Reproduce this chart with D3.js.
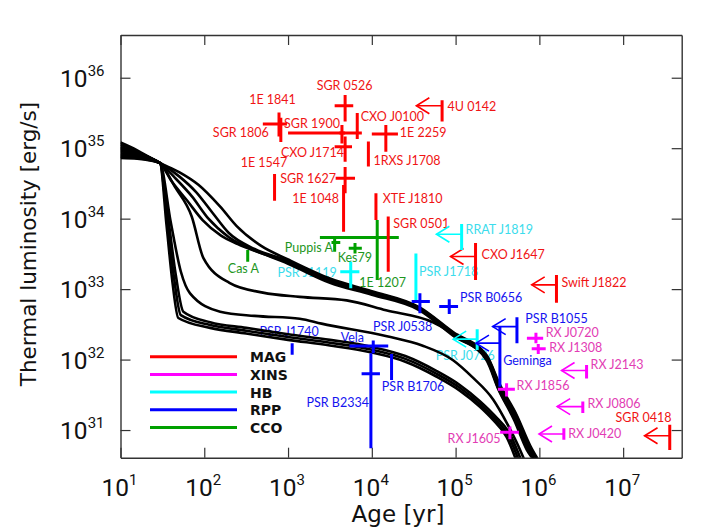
<!DOCTYPE html>
<html>
<head>
<meta charset="utf-8">
<script src="https://cdn.jsdelivr.net/npm/d3@7"></script>
<style>
  body { margin: 0; background: #fff; }
  svg text { font-family: Lato, "Open Sans", sans-serif; }
</style>
</head>
<body>
<div id="chart"></div>
<script>
// cooling curves: [log10 age (yr), log10 L (erg/s)]
const curveU1 = [[1,35.08],[1.2,34.97],[1.47,34.79],[1.7,34.66],[1.93,34.48],[2.19,34.17],[2.39,33.89],[2.67,33.62],[3.0,33.42],[3.5,33.15],[4.0,32.97],[4.57,32.74],[4.97,32.39],[5.37,32.06],[5.53,31.64],[5.73,31.21],[5.89,30.78],[6.0,30.55]];
const curveU2 = [[1,35.05],[1.2,34.95],[1.47,34.79],[1.7,34.6],[1.9,34.38],[2.1,34.08],[2.29,33.8],[2.6,33.57],[3.0,33.4],[3.5,33.13],[4.0,32.96],[4.57,32.73],[4.97,32.38],[5.37,32.05],[5.53,31.62],[5.73,31.19],[5.88,30.77],[5.99,30.55]];
const curveU3 = [[1,35.02],[1.2,34.93],[1.47,34.79],[1.65,34.58],[1.85,34.32],[2.05,34.0],[2.29,33.74],[2.6,33.55],[3.0,33.38],[3.5,33.11],[4.0,32.94],[4.57,32.72],[4.97,32.36],[5.37,32.03],[5.52,31.61],[5.72,31.17],[5.87,30.75],[5.97,30.55]];
const curveU4 = [[1,34.99],[1.2,34.91],[1.47,34.79],[1.6,34.55],[1.8,34.25],[1.98,33.98],[2.2,33.76],[2.4,33.64],[2.7,33.5],[3.0,33.36],[3.5,33.09],[4.0,32.92],[4.57,32.7],[4.97,32.34],[5.37,32.01],[5.51,31.59],[5.71,31.15],[5.86,30.73],[5.96,30.55]];
const curveM0 = [[1,34.96],[1.2,34.9],[1.47,34.79],[1.65,34.45],[1.85,34.03],[1.99,33.44],[2.3,33.09],[2.7,32.95],[3.14,32.89],[3.7,32.84],[4.17,32.7],[4.73,32.53],[5.05,32.3],[5.37,31.99],[5.51,31.58],[5.7,31.14],[5.85,30.72],[5.95,30.55]];
const curveM1 = [[1,34.93],[1.2,34.88],[1.47,34.79],[1.6,33.95],[1.72,33.25],[1.83,32.94],[2.19,32.68],[2.6,32.62],[3.14,32.58],[3.4,32.51],[4.18,32.33],[4.6,32.2],[4.97,31.99],[5.2,31.75],[5.45,31.43],[5.62,31.08],[5.75,30.77],[5.83,30.55]];
const curveL1 = [[1,34.86],[1.2,34.85],[1.47,34.79],[1.55,33.9],[1.62,33.1],[1.69,32.59],[2.07,32.45],[2.5,32.37],[3.0,32.28],[3.5,32.2],[4.0,32.1],[4.4,31.97],[4.77,31.76],[5.05,31.56],[5.29,31.33],[5.45,31.14],[5.61,30.9],[5.73,30.55]];
const curveL2 = [[1,34.88],[1.2,34.86],[1.47,34.79],[1.56,33.95],[1.64,33.15],[1.72,32.63],[2.07,32.49],[2.5,32.41],[3.0,32.32],[3.5,32.24],[4.0,32.14],[4.4,32.01],[4.77,31.8],[5.05,31.6],[5.29,31.37],[5.46,31.17],[5.63,30.92],[5.76,30.55]];
const curveL3 = [[1,34.9],[1.2,34.87],[1.47,34.79],[1.57,34.0],[1.66,33.2],[1.75,32.68],[2.07,32.53],[2.5,32.45],[3.0,32.36],[3.5,32.28],[4.0,32.18],[4.4,32.05],[4.77,31.84],[5.05,31.64],[5.29,31.41],[5.47,31.2],[5.65,30.94],[5.79,30.55]];
const coolingCurves = [curveU1, curveU2, curveU3, curveU4, curveM0, curveM1, curveL1, curveL2, curveL3];

// sources with age and luminosity error bars: name, class, age, ageLo, ageHi, L, LLo, LHi
const crossSources = [
  ['SGR 0526','MAG',4800,3600,6000,4.0e35,2.4e35,5.7e35],
  ['1E 1841','MAG',780,500,970,2.2e35,1.46e35,3.2e35],
  ['SGR 1900','MAG',4400,1000,4800,1.64e35,1.17e35,2.13e35],
  ['CXO J0100','MAG',6700,4100,7600,1.64e35,1.35e35,3.15e35],
  ['1E 2259','MAG',14700,10000,20500,1.59e35,8.9e34,2.13e35],
  ['CXO J1714','MAG',4800,3600,5800,1.05e35,6.4e34,1.46e35],
  ['SGR 1627','MAG',4800,3700,6300,3.74e34,2.29e34,5.4e34],
  ['Puppis A','CCO',3600,3300,4200,4.6e33,3.4e33,5.3e33],
  ['Kes79','CCO',6300,5300,7600,3.8e33,3.2e33,4.5e33],
  ['1E 1207','CCO',11600,2400,21000,5.4e33,1.35e33,9.6e33],
  ['PSR J1119','HB',5600,4200,7100,1.77e33,1.03e33,2.45e33],
  ['PSR J0538','RPP',37500,29900,49300,6.65e32,4.55e32,8.75e32],
  ['PSR B0656','RPP',84000,63700,107000,5.65e32,4.45e32,7.2e32],
  ['Vela','RPP',10400,5400,15700,1.56e32,1.23e32,1.86e32],
  ['PSR B2334','RPP',9750,7550,12500,6.3e31,5.5e30,1.23e32],
  ['RX J0720','XINS',9.1e5,7.1e5,1.11e6,2.0e32,1.71e32,2.4e32],
  ['RX J1308','XINS',9.7e5,8.1e5,1.19e6,1.42e32,1.2e32,1.67e32],
  ['RX J1856','XINS',4.06e5,3.2e5,5.1e5,3.8e31,3.0e31,4.6e31],
  ['RX J1605','XINS',4.45e5,3.4e5,5.7e5,9.3e30,7.4e30,1.12e31]
];

// sources with luminosity range only: name, class, age, LLo, LHi
const barSources = [
  ['SGR 1806','MAG',820,1.22e35,2.7e35],
  ['1RXS J1708','MAG',9100,5.5e34,1.24e35],
  ['1E 1048','MAG',4600,6.5e33,3.0e34],
  ['1E 1547','MAG',690,1.8e34,4.3e34],
  ['XTE J1810','MAG',11200,9.6e33,2.29e34],
  ['SGR 0501','MAG',15700,1.77e33,1.07e34],
  ['Cas A','CCO',330,2.45e33,3.6e33],
  ['PSR J1718','HB',33600,7.0e32,3.2e33],
  ['PSR B1706','RPP',17200,5.15e31,1.2e32],
  ['PSR J1740','RPP',1120,1.17e32,1.71e32]
];

// sources with age upper limits: name, class, age, arrow tip age, L, LLo, LHi
const arrowSources = [
  ['4U 0142','MAG',69000,34000,4.0e35,2.4e35,4.8e35],
  ['CXO J1647','MAG',1.73e5,8.7e4,2.9e33,1.35e33,4.5e33],
  ['Swift J1822','MAG',1.6e6,8.1e5,1.15e33,6.4e32,1.59e33],
  ['SGR 0418','MAG',3.6e7,1.8e7,8.3e30,5.2e30,1.19e31],
  ['RRAT J1819','HB',1.18e5,5.9e4,6.0e33,3.6e33,8.4e33],
  ['PSR J0726','HB',1.81e5,9.35e4,1.95e32,1.37e32,2.7e32],
  ['PSR B1055','RPP',5.4e5,2.77e5,2.94e32,1.71e32,4.0e32],
  ['Geminga','RPP',3.38e5,1.75e5,1.71e32,4.1e31,3.0e32],
  ['RX J2143','XINS',3.66e6,1.84e6,7.0e31,5.4e31,8.4e31],
  ['RX J0806','XINS',3.3e6,1.63e6,2.15e31,1.74e31,2.54e31],
  ['RX J0420','XINS',1.96e6,9.9e5,8.8e30,7.3e30,1.06e31]
];

const classes = ['MAG', 'XINS', 'HB', 'RPP', 'CCO'];
const xTicks = [1e1, 1e2, 1e3, 1e4, 1e5, 1e6, 1e7];
const yTicks = [1e31, 1e32, 1e33, 1e34, 1e35, 1e36];

const markColor = { MAG: '#ff0000', XINS: '#ff00ff', HB: '#00ffff', RPP: '#0000ff', CCO: '#00a000' };
const textColor = { MAG: '#f01414', XINS: '#e23cb4', HB: '#3cdcec', RPP: '#1414f0', CCO: '#1e961e' };

// label placement in px from the mark: [dx, dy, anchor]
const labelPos = {
  'SGR 0526': [-0.5, -15.3, 'middle'], '1E 1841': [-6.5, -19.7, 'middle'], 'SGR 1806': [-12, 7.3, 'end'],
  'SGR 1900': [-2, -4.7, 'end'], 'CXO J0100': [3.5, -12, 'start'], '1E 2259': [14, 3.3, 'start'],
  'CXO J1714': [-1, 10.6, 'end'], '1RXS J1708': [5, 10.8, 'start'], '1E 1547': [-10.5, -20.5, 'middle'],
  'SGR 1627': [-9, 5, 'end'], '1E 1048': [-4.6, -5, 'end'], 'XTE J1810': [6.7, -3.3, 'start'],
  'SGR 0501': [5, -15.9, 'start'], '4U 0142': [5.4, 5, 'start'], 'CXO J1647': [6, 2.6, 'start'],
  'Swift J1822': [5, 1.7, 'start'], 'SGR 0418': [1.7, -13.7, 'end'], 'Puppis A': [-1.7, 10, 'end'],
  'Kes79': [-17.3, 13.4, 'start'], '1E 1207': [-18, 49, 'start'], 'Cas A': [-4.3, 16.8, 'middle'],
  'PSR J1119': [-14, 5, 'end'], 'PSR J1718': [3, -1.2, 'start'], 'RRAT J1819': [4, 0, 'start'],
  'PSR J0726': [17.7, 20.7, 'end'], 'PSR J0538': [12.3, 29, 'end'], 'PSR B0656': [10.7, -5, 'start'],
  'PSR B1055': [8.4, -3.4, 'start'], 'Geminga': [3.3, 21.7, 'start'], 'Vela': [-9.3, -4.3, 'end'],
  'PSR B2334': [-2, 33.3, 'end'], 'PSR B1706': [-9.7, 23.8, 'start'], 'PSR J1740': [-3.1, -13.1, 'middle'],
  'RX J0720': [9.7, -1.8, 'start'], 'RX J1308': [11, 3, 'start'], 'RX J2143': [4, -1.7, 'start'],
  'RX J1856': [10, 0.7, 'start'], 'RX J0806': [4.6, 1.6, 'start'], 'RX J0420': [4.3, 4.3, 'start'],
  'RX J1605': [-9.3, 11, 'end']
};

const margin = { top: 35, left: 120.5 };
const width = 561.2, height = 422.7;

const svg = d3.select('#chart').append('svg')
  .attr('width', 706).attr('height', 530);

const g = svg.append('g').attr('transform', `translate(${margin.left},${margin.top})`);

const x = d3.scaleLog().domain([10, 5e7]).range([0, width]);
const y = d3.scaleLog().domain([4.05e30, 4.04e36]).range([height, 0]);

g.append('clipPath').attr('id', 'plot-clip')
  .append('rect').attr('width', width).attr('height', height);

// axes, ticks pointing inward on all four sides
function styleAxis(sel) {
  sel.selectAll('path.domain').attr('stroke', '#333').attr('stroke-width', 1.4);
  sel.selectAll('.tick line').attr('stroke', '#333').attr('stroke-width', 1.2);
  sel.selectAll('.tick text').remove();
}
g.append('g').attr('transform', `translate(0,${height})`)
  .call(d3.axisBottom(x).tickValues(xTicks).tickSize(-10).tickSizeOuter(0)).call(styleAxis);
g.append('g')
  .call(d3.axisTop(x).tickValues(xTicks).tickSize(-10).tickSizeOuter(0)).call(styleAxis);
g.append('g')
  .call(d3.axisLeft(y).tickValues(yTicks).tickSize(-10).tickSizeOuter(0)).call(styleAxis);
g.append('g').attr('transform', `translate(${width},0)`)
  .call(d3.axisRight(y).tickValues(yTicks).tickSize(-10).tickSizeOuter(0)).call(styleAxis);

function powerLabel(sel, v) {
  sel.append('tspan').text('10');
  sel.append('tspan').attr('dy', -11).attr('font-size', 15).text(Math.round(Math.log10(v)));
}

g.selectAll('.xlab').data(xTicks).enter().append('text')
  .attr('class', 'xlab')
  .attr('x', d => x(d) - 1).attr('y', height + 38)
  .attr('text-anchor', 'middle')
  .style('font-family', 'Roboto, sans-serif').attr('font-size', 24.5).attr('fill', '#111')
  .each(function(d) { powerLabel(d3.select(this), d); });

g.selectAll('.ylab').data(yTicks).enter().append('text')
  .attr('class', 'ylab')
  .attr('x', -16).attr('y', d => y(d) + 9)
  .attr('text-anchor', 'end')
  .style('font-family', 'Roboto, sans-serif').attr('font-size', 24.5).attr('fill', '#111')
  .each(function(d) { powerLabel(d3.select(this), d); });

svg.append('text')
  .attr('x', 398).attr('y', 522)
  .attr('text-anchor', 'middle')
  .style('font-family', '"DejaVu Sans", sans-serif').attr('font-size', 23).attr('fill', '#111')
  .text('Age [yr]');

svg.append('text')
  .attr('transform', 'translate(36,244) rotate(-90)')
  .attr('text-anchor', 'middle')
  .style('font-family', '"DejaVu Sans", sans-serif').attr('font-size', 21.5).attr('fill', '#111')
  .text('Thermal luminosity [erg/s]');

// source labels
function labelRef(name, age, lum) {
  const p = labelPos[name];
  return { name, x: x(age) + p[0], y: y(lum) + p[1], anchor: p[2] };
}
const labels = [
  ...crossSources.map(d => ({ ...labelRef(d[0], d[2], d[5]), cls: d[1] })),
  ...barSources.map(d => ({ ...labelRef(d[0], d[2], Math.sqrt(d[3] * d[4])), cls: d[1] })),
  ...arrowSources.map(d => ({ ...labelRef(d[0], d[2], d[4]), cls: d[1] }))
];
g.selectAll('.src-label').data(labels).enter().append('text')
  .attr('class', 'src-label')
  .attr('x', d => d.x).attr('y', d => d.y)
  .attr('text-anchor', d => d.anchor)
  .attr('font-size', 12.5)
  .attr('fill', d => textColor[d.cls])
  .text(d => d.name);

// cooling curves
const line = d3.line()
  .x(d => x(Math.pow(10, d[0])))
  .y(d => y(Math.pow(10, d[1])))
  .curve(d3.curveMonotoneX);

g.append('g').attr('clip-path', 'url(#plot-clip)')
  .selectAll('path').data(coolingCurves).enter().append('path')
  .attr('d', line)
  .attr('fill', 'none')
  .attr('stroke', '#000')
  .attr('stroke-width', 2.6);

// markers
const marks = g.append('g').attr('clip-path', 'url(#plot-clip)');

crossSources.forEach(d => {
  const c = markColor[d[1]];
  marks.append('line')
    .attr('x1', x(d[2])).attr('x2', x(d[2])).attr('y1', y(d[6])).attr('y2', y(d[7]))
    .attr('stroke', c).attr('stroke-width', 3);
  marks.append('line')
    .attr('x1', x(d[3])).attr('x2', x(d[4])).attr('y1', y(d[5])).attr('y2', y(d[5]))
    .attr('stroke', c).attr('stroke-width', 3);
});

barSources.forEach(d => {
  marks.append('line')
    .attr('x1', x(d[2])).attr('x2', x(d[2])).attr('y1', y(d[3])).attr('y2', y(d[4]))
    .attr('stroke', markColor[d[1]]).attr('stroke-width', 3);
});

arrowSources.forEach(d => {
  const c = markColor[d[1]];
  const x0 = x(d[2]), xt = x(d[3]), yl = y(d[4]);
  marks.append('line')
    .attr('x1', x0).attr('x2', x0).attr('y1', y(d[5])).attr('y2', y(d[6]))
    .attr('stroke', c).attr('stroke-width', 3);
  marks.append('line')
    .attr('x1', xt).attr('x2', x0).attr('y1', yl).attr('y2', yl)
    .attr('stroke', c).attr('stroke-width', 1.6);
  marks.append('path')
    .attr('d', `M${xt + 13},${yl - 8}L${xt},${yl}L${xt + 13},${yl + 8}`)
    .attr('fill', 'none').attr('stroke', c).attr('stroke-width', 1.6);
});

// legend
const legend = svg.append('g').attr('transform', 'translate(150,356.7)');
classes.forEach((cls, i) => {
  const row = legend.append('g').attr('transform', `translate(0,${i * 17.7})`);
  row.append('line').attr('x1', 0).attr('x2', 87)
    .attr('stroke', markColor[cls]).attr('stroke-width', 3);
  row.append('text').attr('x', 100).attr('y', 5.5)
    .style('font-family', '"DejaVu Sans", sans-serif')
    .attr('font-weight', 'bold').attr('font-size', 14).attr('fill', '#111')
    .text(cls);
});
</script>
</body>
</html>
